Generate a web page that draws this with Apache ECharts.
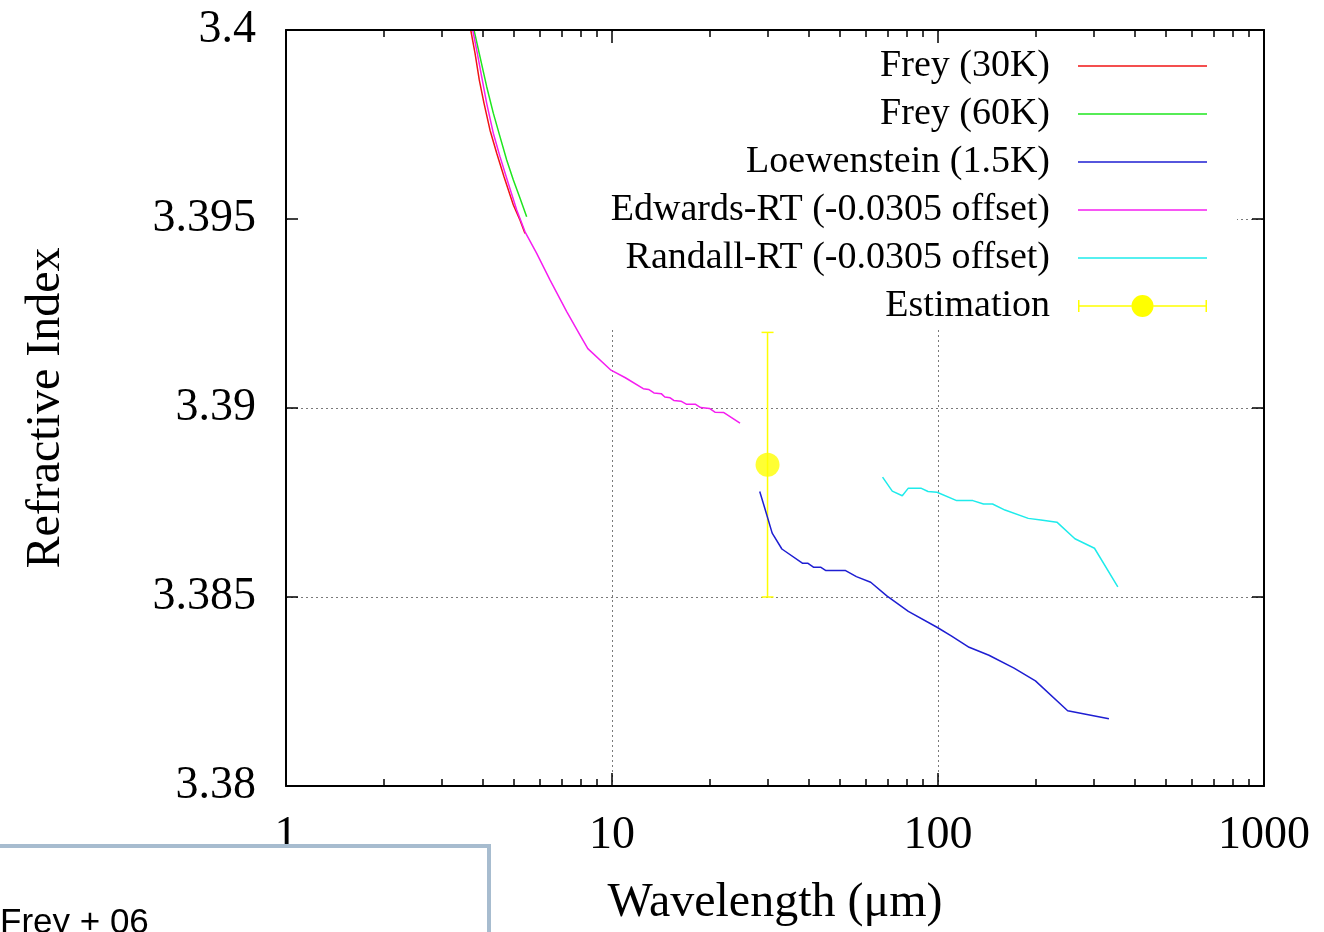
<!DOCTYPE html>
<html>
<head>
<meta charset="utf-8">
<title>Refractive Index vs Wavelength</title>
<script src="https://cdn.jsdelivr.net/npm/echarts@6/dist/echarts.min.js"></script>
<style>
  html, body { margin: 0; padding: 0; background: #fff; }
  #chart { width: 1324px; height: 932px; }
</style>
</head>
<body>
<div id="chart"></div>
<script>
// ---- data: [wavelength (µm), refractive index] ----
const frey30K = [
  [3.687, 3.4000], [3.801, 3.39938], [3.916, 3.39868], [4.050, 3.39806],
  [4.225, 3.39735], [4.430, 3.39674], [4.664, 3.39612], [4.982, 3.39537],
  [5.223, 3.39497], [5.410, 3.39462]
];
const frey60K = [
  [3.773, 3.4000], [3.937, 3.39929], [4.127, 3.39850], [4.324, 3.39780],
  [4.533, 3.39718], [4.753, 3.39656], [4.982, 3.39603], [5.223, 3.39555],
  [5.473, 3.39506]
];
const loewenstein15K = [
  [28.39, 3.38779], [29.47, 3.38733], [31.00, 3.38669], [33.20, 3.38627],
  [38.46, 3.38589], [39.93, 3.38589], [41.48, 3.38579], [43.63, 3.38579],
  [45.31, 3.38570], [52.07, 3.38570], [56.19, 3.38554], [62.16, 3.38539],
  [69.66, 3.38503], [81.10, 3.38462], [99.29, 3.38420], [109.8, 3.38397],
  [124.6, 3.38367], [143.3, 3.38346], [171.1, 3.38312], [199.0, 3.38278],
  [249.9, 3.38199], [334.4, 3.38178]
];
const edwardsRT = [
  [3.739, 3.4000], [3.863, 3.39938], [3.984, 3.39876], [4.127, 3.39806],
  [4.324, 3.39727], [4.533, 3.39665], [4.808, 3.39594], [5.102, 3.39524],
  [5.410, 3.39466], [5.875, 3.39409], [6.452, 3.39339], [7.262, 3.39255],
  [7.978, 3.39193], [8.43, 3.39157], [9.93, 3.39100], [10.99, 3.39080],
  [12.47, 3.39051], [12.95, 3.39049], [13.45, 3.39040], [14.16, 3.39038],
  [14.52, 3.39029], [15.08, 3.39027], [15.47, 3.39020], [16.27, 3.39018],
  [16.90, 3.39010], [18.00, 3.39010], [18.70, 3.39001], [19.91, 3.38999],
  [20.69, 3.38989], [22.04, 3.38988], [24.70, 3.38960]
];
const randallRT = [
  [67.6, 3.38817], [72.4, 3.38780], [77.7, 3.38768], [81.1, 3.38788],
  [88.6, 3.38788], [93.2, 3.38779], [99.3, 3.38777], [114.1, 3.38755],
  [127.9, 3.38755], [137.9, 3.38746], [147.0, 3.38746], [160.5, 3.38730],
  [189.2, 3.38708], [206.8, 3.38704], [231.6, 3.38698], [263.0, 3.38654],
  [302.0, 3.38629], [356.1, 3.38527]
];
// estimation: wavelength, index, half-width of the error bar
const estWavelength = [30];
const estIndex = [3.3885];
const estError = [0.0035];

const seriesNames = [
  'Frey (30K)', 'Frey (60K)', 'Loewenstein (1.5K)',
  'Edwards-RT (-0.0305 offset)', 'Randall-RT (-0.0305 offset)'
];
const seriesData = [frey30K, frey60K, loewenstein15K, edwardsRT, randallRT];
const seriesColors = ['#f01414', '#1ee61e', '#1e1ed2', '#f51ef0', '#1eebeb'];
const estColor = '#ffff00';
const estName = 'Estimation';

// axis ticks
const xMinorTicks = [2, 3, 4, 5, 6, 7, 8, 9, 20, 30, 40, 50, 60, 70, 80, 90,
                     200, 300, 400, 500, 600, 700, 800, 900];

// ---- styling ----
const serif = '"Liberation Serif", "Times New Roman", serif';
const black = '#000';

const chart = echarts.init(document.getElementById('chart'), null, { renderer: 'canvas' });

const logBase = { type: 'log', logBase: 10, min: 1, max: 1000, gridIndex: 0 };
const valueBase = { type: 'value', min: 3.38, max: 3.4, interval: 0.005, gridIndex: 0, scale: true };
const frameLine = { show: true, onZero: false, lineStyle: { color: black, width: 2 } };
const tickStyle = { color: black, width: 1.5 };
const dotted = { color: '#7a7a7a', width: 1, type: [2, 3] };

function xAxisDef(position, opts) {
  return Object.assign({}, logBase, {
    position: position, z: 3,
    axisLine: { show: false },
    axisTick: { show: false },
    axisLabel: { show: false },
    splitLine: { show: false }
  }, opts);
}
function yAxisDef(position, opts) {
  return Object.assign({}, valueBase, {
    position: position, z: 3,
    axisLine: { show: false },
    axisTick: { show: false },
    axisLabel: { show: false },
    splitLine: { show: false }
  }, opts);
}

const xAxes = [
  xAxisDef('bottom', {
    axisLine: frameLine,
    axisTick: { show: true, inside: true, length: 13, lineStyle: tickStyle },
    axisLabel: {
      show: true, fontFamily: serif, fontSize: 46, color: black, margin: 27,
      formatter: v => String(Math.round(v))
    },
    name: 'Wavelength (\u03bcm)', nameLocation: 'middle', nameGap: 93,
    nameTextStyle: { fontFamily: serif, fontSize: 48, color: black }
  }),
  xAxisDef('bottom', {
    axisTick: { show: true, inside: true, length: 7, lineStyle: tickStyle, customValues: xMinorTicks }
  }),
  xAxisDef('top', {
    axisLine: frameLine,
    axisTick: { show: true, inside: true, length: 13, lineStyle: tickStyle }
  }),
  xAxisDef('top', {
    axisTick: { show: true, inside: true, length: 7, lineStyle: tickStyle, customValues: xMinorTicks }
  }),
  // grid lines only
  xAxisDef('bottom', {
    z: 0,
    splitLine: { show: true, showMinLine: false, showMaxLine: false, lineStyle: dotted }
  })
];

const yAxes = [
  yAxisDef('left', {
    axisLine: frameLine,
    axisTick: { show: true, inside: true, length: 12, lineStyle: tickStyle },
    axisLabel: { show: true, fontFamily: serif, fontSize: 46, color: black, margin: 30 },
    name: 'Refractive Index', nameLocation: 'middle', nameGap: 216,
    nameTextStyle: { fontFamily: serif, fontSize: 48, color: black }
  }),
  yAxisDef('right', {
    axisLine: frameLine,
    axisTick: { show: true, inside: true, length: 12, lineStyle: tickStyle }
  }),
  yAxisDef('left', {
    z: 0,
    splitLine: { show: true, showMinLine: false, showMaxLine: false, lineStyle: dotted }
  })
];

const lineSeries = seriesNames.map((name, i) => ({
  type: 'line',
  name: name,
  data: seriesData[i],
  xAxisIndex: 0,
  yAxisIndex: 0,
  symbol: 'none',
  showSymbol: false,
  smooth: false,
  clip: true,
  z: 2,
  color: seriesColors[i],
  lineStyle: { color: seriesColors[i], width: 1.5 }
}));

const estRows = estWavelength.map((w, i) => [w, estIndex[i] - estError[i], estIndex[i] + estError[i]]);

const errorBarSeries = {
  type: 'custom',
  name: estName,
  xAxisIndex: 0,
  yAxisIndex: 0,
  z: 2,
  itemStyle: { color: estColor },
  encode: { x: 0, y: [1, 2] },
  data: estRows,
  renderItem: function (params, api) {
    const x = api.value(0);
    const lo = api.coord([x, api.value(1)]);
    const hi = api.coord([x, api.value(2)]);
    const cap = 6;
    const st = { stroke: estColor, lineWidth: 1.5 };
    return {
      type: 'group',
      children: [
        { type: 'line', shape: { x1: lo[0], y1: lo[1], x2: hi[0], y2: hi[1] }, style: st },
        { type: 'line', shape: { x1: lo[0] - cap, y1: lo[1], x2: lo[0] + cap, y2: lo[1] }, style: st },
        { type: 'line', shape: { x1: hi[0] - cap, y1: hi[1], x2: hi[0] + cap, y2: hi[1] }, style: st }
      ]
    };
  }
};

const estPointSeries = {
  type: 'scatter',
  name: estName,
  xAxisIndex: 0,
  yAxisIndex: 0,
  z: 3,
  symbol: 'circle',
  symbolSize: 24,
  itemStyle: { color: estColor },
  data: estWavelength.map((w, i) => [w, estIndex[i]])
};

// legend keys: a thin line, and a line with end caps and a dot for the estimation
const lineIcon = 'path://M0,0H129V1.5H0Z';
const estIcon = 'path://M0,6H1.5V11.25H53.5V12.75H1.5V18H0Z' +
  'M75.5,11.25H127.5V6H129V18H127.5V12.75H75.5Z' +
  'M75.5,12A11,11 0 1,1 53.5,12A11,11 0 1,1 75.5,12Z';

const legendData = seriesNames.map(n => ({ name: n, icon: lineIcon }))
  .concat([{ name: estName, icon: estIcon }]);

chart.setOption({
  animation: false,
  backgroundColor: '#fff',
  grid: { left: 286, right: 60, top: 30, bottom: 146, containLabel: false, outerBoundsMode: 'none' },
  xAxis: xAxes,
  yAxis: yAxes,
  legend: {
    orient: 'vertical',
    align: 'right',
    right: 117,
    top: 47,
    padding: 0,
    itemWidth: 129,
    itemHeight: 24,
    itemGap: 10,
    selectedMode: false,
    itemStyle: { borderWidth: 0 },
    textStyle: { fontFamily: serif, fontSize: 38, color: black, padding: [0, 23, 0, 0] },
    data: legendData
  },
  graphic: [
    // opaque key area: hides the grid behind the key
    {
      type: 'rect', z: 1, silent: true,
      shape: { x: 288, y: 32, width: 949, height: 297 },
      style: { fill: '#fff' }
    },
    // reference panel in the lower-left corner
    {
      type: 'rect', z: 10, silent: true,
      shape: { x: -10, y: 846, width: 499, height: 120 },
      style: { fill: '#fff', stroke: '#a7bccf', lineWidth: 4 }
    },
    {
      type: 'text', z: 11, silent: true,
      x: 0, y: 906,
      style: { text: 'Frey + 06', font: '35px "Liberation Sans", Arial, sans-serif', fill: '#000', verticalAlign: 'top' }
    }
  ],
  series: lineSeries.concat([errorBarSeries, estPointSeries])
});
</script>
</body>
</html>
